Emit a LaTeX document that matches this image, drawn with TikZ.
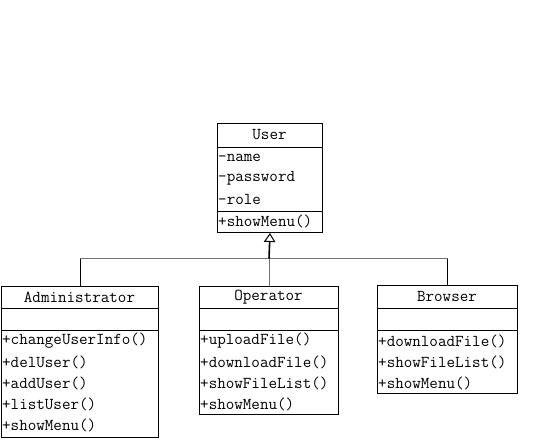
\documentclass[tikz,border=0pt]{standalone}
\usetikzlibrary{arrows.meta}
\begin{document}
\begin{tikzpicture}[x=1pt,y=-1pt,
  box/.style={draw=black,line width=1pt,rectangle,inner sep=0pt,anchor=north west},
  sep/.style={line width=1pt},
  lbl/.style={inner sep=0pt,font=\fontsize{16.6}{18}\selectfont\ttfamily},
  row/.style={lbl,anchor=west},
  link/.style={line width=1pt,draw=black!55},
  up/.style={line width=1.6pt,draw=black,-{Triangle[open,length=9pt,width=11.5pt,line width=1pt]}}
]
\useasboundingbox (0,0) rectangle (555,440);

% User
\node[box,minimum width=105pt,minimum height=109pt] (user) at (217,123) {};
\draw[sep] (217,147) -- (322,147);
\draw[sep] (217,211) -- (322,211);
\node[lbl] (ut) at (269.5,135) {User};
\node[row] (u1) at (218,157.5) {-name};
\node[row] (u2) at (218,178.5) {-password};
\node[row] (u3) at (218,199) {-role};
\node[row] (u4) at (218,221.5) {+showMenu()};

% Administrator
\node[box,minimum width=157pt,minimum height=151pt] (admin) at (1,286) {};
\draw[sep] (1,308) -- (158,308);
\draw[sep] (1,330) -- (158,330);
\node[lbl] (at) at (79.5,297) {Administrator};
\node[row] (a1) at (2,341) {+changeUserInfo()};
\node[row] (a2) at (2,362) {+delUser()};
\node[row] (a3) at (2,383) {+addUser()};
\node[row] (a4) at (2,404) {+listUser()};
\node[row] (a5) at (2,425) {+showMenu()};

% Operator
\node[box,minimum width=139pt,minimum height=128pt] (oper) at (199,286) {};
\draw[sep] (199,308) -- (338,308);
\draw[sep] (199,330) -- (338,330);
\node[lbl] (ot) at (268.5,297) {Operator};
\node[row] (o1) at (200,341) {+uploadFile()};
\node[row] (o2) at (200,362) {+downloadFile()};
\node[row] (o3) at (200,383) {+showFileList()};
\node[row] (o4) at (200,404) {+showMenu()};

% Browser
\node[box,minimum width=140pt,minimum height=108pt] (brow) at (377,285) {};
\draw[sep] (377,308) -- (517,308);
\draw[sep] (377,330) -- (517,330);
\node[lbl] (bt) at (447,296.5) {Browser};
\node[row] (b1) at (378,341) {+downloadFile()};
\node[row] (b2) at (378,362) {+showFileList()};
\node[row] (b3) at (378,383) {+showMenu()};

% Connectors
\coordinate (j) at (269,258.5);
\draw[link] (admin.north) |- (j) -| (brow.north);
\draw[line width=1pt,black] (admin.north) -- ++(0,-27.5);
\draw[line width=1pt,black] (brow.north) -- ++(0,-26.5);
\draw[link] (oper.north) -- (oper.north |- j);
\draw[up] (j) -- (user.south);
\end{tikzpicture}
\end{document}
